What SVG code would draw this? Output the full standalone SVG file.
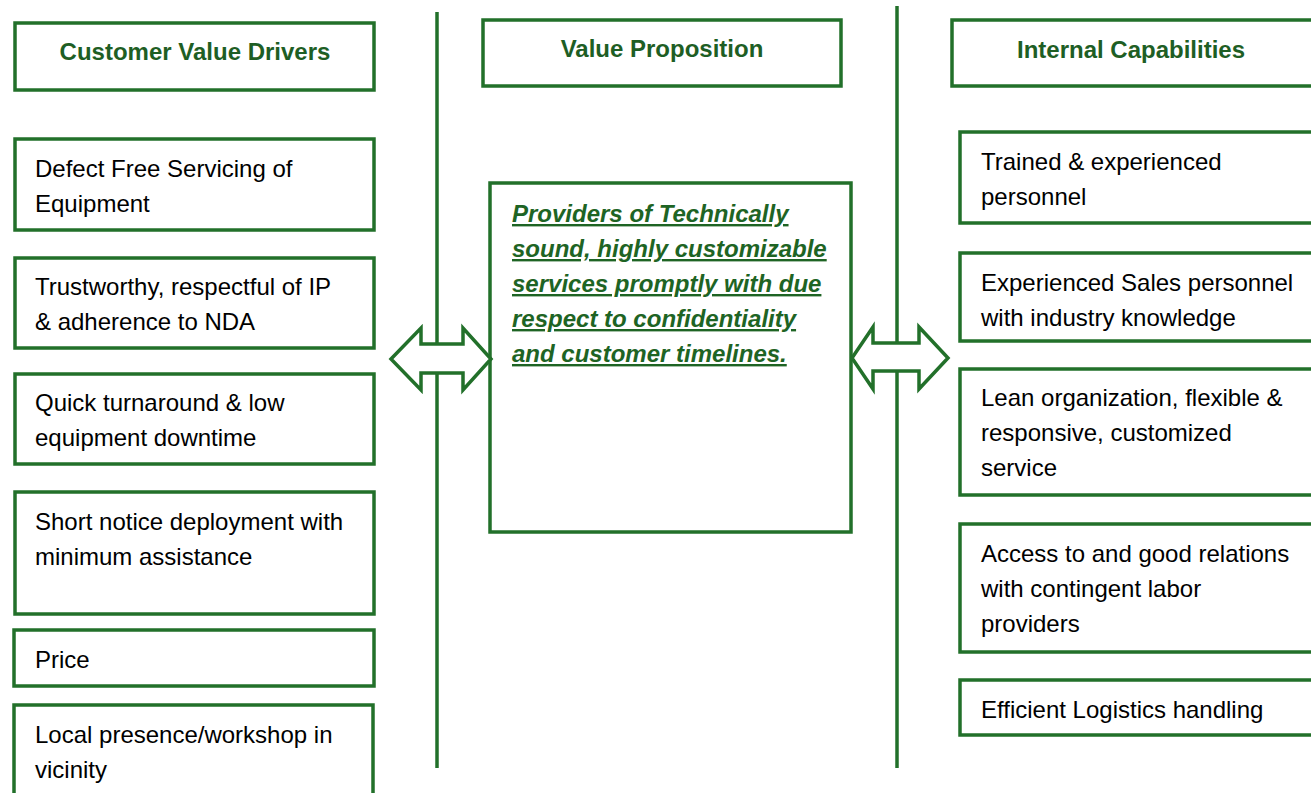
<svg xmlns="http://www.w3.org/2000/svg" width="1311" height="793" viewBox="0 0 1311 793">
<style>
.box{fill:#fff;stroke:#22702A;stroke-width:3.5}
.vline{stroke:#22702A;stroke-width:3.5;fill:none}
.arrow{fill:#fff;stroke:#22702A;stroke-width:3.5;stroke-linejoin:miter}
.head{font-family:"Liberation Sans",Arial,sans-serif;font-size:24px;font-weight:bold;fill:#1E5E24;text-anchor:middle}
.body{font-family:"Liberation Sans",Arial,sans-serif;font-size:24px;fill:#000}
.vp{font-family:"Liberation Sans",Arial,sans-serif;font-size:24px;font-weight:bold;font-style:italic;fill:#1E6424;text-decoration:underline}
</style>
<rect width="1311" height="793" fill="#fff"/>
<g id="dividers">
<line class="vline" x1="437" y1="12" x2="437" y2="768"/>
<line class="vline" x1="897" y1="6" x2="897" y2="768"/>
</g>
<g id="hdr-left"><rect class="box" x="15" y="23" width="359" height="67"/><text class="head" x="195" y="60">Customer Value Drivers</text></g>
<g id="hdr-mid"><rect class="box" x="483" y="20" width="358" height="66"/><text class="head" x="662" y="57">Value Proposition</text></g>
<g id="hdr-right"><rect class="box" x="952" y="20" width="370" height="66"/><text class="head" x="1131" y="58">Internal Capabilities</text></g>

<g id="cv1"><rect class="box" x="15" y="139" width="359" height="91"/><text class="body" x="35" y="177">Defect Free Servicing of</text><text class="body" x="35" y="212">Equipment</text></g>
<g id="cv2"><rect class="box" x="15" y="258" width="359" height="90"/><text class="body" x="35" y="295">Trustworthy, respectful of IP</text><text class="body" x="35" y="330">&amp; adherence to NDA</text></g>
<g id="cv3"><rect class="box" x="15" y="374" width="359" height="90"/><text class="body" x="35" y="411">Quick turnaround &amp; low</text><text class="body" x="35" y="446">equipment downtime</text></g>
<g id="cv4"><rect class="box" x="15" y="492" width="359" height="122"/><text class="body" x="35" y="530">Short notice deployment with</text><text class="body" x="35" y="565">minimum assistance</text></g>
<g id="cv5"><rect class="box" x="14" y="630" width="360" height="56"/><text class="body" x="35" y="668">Price</text></g>
<g id="cv6"><rect class="box" x="14" y="705" width="359" height="100"/><text class="body" x="35" y="743">Local presence/workshop in</text><text class="body" x="35" y="778">vicinity</text></g>

<g id="vp"><rect class="box" x="490" y="183" width="361" height="349"/>
<text class="vp" x="512" y="222">Providers of Technically</text>
<text class="vp" x="512" y="257">sound, highly customizable</text>
<text class="vp" x="512" y="292">services promptly with due</text>
<text class="vp" x="512" y="327">respect to confidentiality</text>
<text class="vp" x="512" y="362">and customer timelines.</text>
</g>

<g id="ic1"><rect class="box" x="960" y="132" width="362" height="91"/><text class="body" x="981" y="170">Trained &amp; experienced</text><text class="body" x="981" y="205">personnel</text></g>
<g id="ic2"><rect class="box" x="960" y="253" width="362" height="88"/><text class="body" x="981" y="291">Experienced Sales personnel</text><text class="body" x="981" y="326">with industry knowledge</text></g>
<g id="ic3"><rect class="box" x="960" y="369" width="362" height="126"/><text class="body" x="981" y="406">Lean organization, flexible &amp;</text><text class="body" x="981" y="441">responsive, customized</text><text class="body" x="981" y="476">service</text></g>
<g id="ic4"><rect class="box" x="960" y="524" width="362" height="128"/><text class="body" x="981" y="562">Access to and good relations</text><text class="body" x="981" y="597">with contingent labor</text><text class="body" x="981" y="632">providers</text></g>
<g id="ic5"><rect class="box" x="960" y="680" width="362" height="55"/><text class="body" x="981" y="718">Efficient Logistics handling</text></g>

<g id="connectors">
<polygon class="arrow" points="391,359 421,328 421,344 463,344 463,328 491,359 463,390 463,373 421,373 421,390"/>
<polygon class="arrow" points="852,358 873,327 873,343 919,343 919,327 948,358 919,389 919,371 873,371 873,389"/>
</g>
</svg>
